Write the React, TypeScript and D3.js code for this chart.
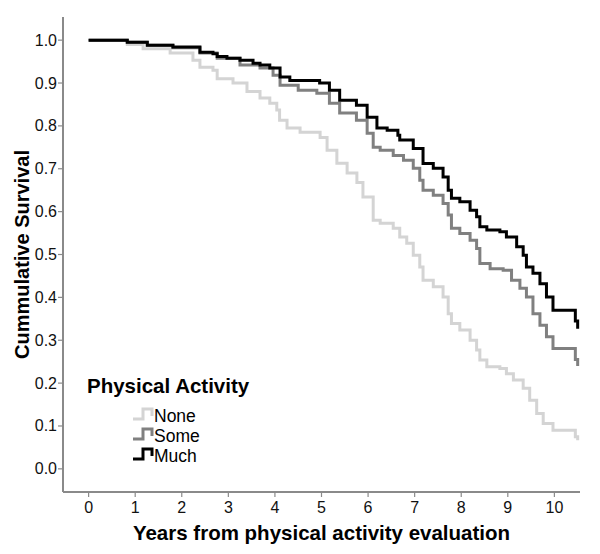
import React from "react";
import * as d3 from "d3";

const seriesNames = ["None", "Some", "Much"];
const seriesColors = ["#d4d4d4", "#808080", "#000000"];

const noneTimes = [0, 0.83, 1.17, 1.75, 2.24, 2.39, 2.67, 2.76, 3.1, 3.4, 3.68, 3.89, 4.04, 4.1, 4.26, 4.54, 4.97, 5.12, 5.33, 5.55, 5.76, 5.89, 6.11, 6.26, 6.54, 6.68, 6.83, 6.97, 7.11, 7.18, 7.4, 7.61, 7.72, 7.79, 7.97, 8.19, 8.33, 8.4, 8.55, 8.83, 8.97, 9.12, 9.33, 9.47, 9.62, 9.76, 9.97, 10.45, 10.5];
const noneSurv = [1.0, 0.99, 0.98, 0.97, 0.953, 0.937, 0.93, 0.91, 0.9, 0.88, 0.865, 0.853, 0.837, 0.813, 0.795, 0.785, 0.773, 0.743, 0.713, 0.69, 0.668, 0.634, 0.58, 0.573, 0.561, 0.541, 0.526, 0.498, 0.471, 0.44, 0.425, 0.401, 0.362, 0.339, 0.324, 0.3, 0.277, 0.254, 0.238, 0.234, 0.222, 0.207, 0.188, 0.16, 0.129, 0.106, 0.09, 0.075, 0.067];

const someTimes = [0, 0.83, 1.26, 1.81, 2.39, 2.76, 3.25, 3.68, 3.96, 4.11, 4.5, 4.9, 5.17, 5.39, 5.75, 5.98, 6.11, 6.26, 6.54, 6.76, 6.97, 7.11, 7.18, 7.4, 7.61, 7.72, 7.79, 7.97, 8.19, 8.33, 8.4, 8.62, 8.9, 9.08, 9.26, 9.4, 9.54, 9.69, 9.83, 9.97, 10.45, 10.5];
const someSurv = [1.0, 0.995, 0.988, 0.982, 0.97, 0.958, 0.942, 0.935, 0.918, 0.895, 0.883, 0.876, 0.853, 0.83, 0.813, 0.783, 0.75, 0.743, 0.731, 0.72, 0.701, 0.673, 0.65, 0.638, 0.619, 0.592, 0.561, 0.549, 0.533, 0.514, 0.479, 0.467, 0.463, 0.44, 0.421, 0.401, 0.362, 0.335, 0.308, 0.281, 0.255, 0.24];

const muchTimes = [0, 0.83, 1.26, 1.81, 2.39, 2.67, 2.76, 2.97, 3.25, 3.53, 3.68, 3.89, 4.11, 4.32, 4.96, 5.17, 5.39, 5.75, 5.98, 6.19, 6.41, 6.64, 6.68, 6.97, 7.18, 7.4, 7.61, 7.72, 7.79, 7.97, 8.19, 8.33, 8.4, 8.55, 8.83, 8.97, 9.19, 9.33, 9.4, 9.54, 9.69, 9.83, 9.97, 10.45, 10.5];
const muchSurv = [1.0, 0.995, 0.988, 0.984, 0.972, 0.968, 0.962, 0.958, 0.953, 0.946, 0.942, 0.935, 0.914, 0.906, 0.9, 0.883, 0.86, 0.848, 0.82, 0.795, 0.79, 0.778, 0.767, 0.747, 0.712, 0.701, 0.681, 0.65, 0.631, 0.623, 0.603, 0.588, 0.565, 0.557, 0.553, 0.541, 0.518, 0.498, 0.471, 0.456, 0.432, 0.401, 0.37, 0.345, 0.327];

const xTicks = [0, 1, 2, 3, 4, 5, 6, 7, 8, 9, 10];
const yTicks = [0, 0.1, 0.2, 0.3, 0.4, 0.5, 0.6, 0.7, 0.8, 0.9, 1.0];

const W = 600;
const H = 554;

export default function App() {
  const x = d3.scaleLinear().domain([-0.55, 10.55]).range([63, 580]);
  const y = d3.scaleLinear().domain([-0.054, 1.054]).range([492, 17]);
  const line = d3
    .line<[number, number]>()
    .x((d) => x(d[0]))
    .y((d) => y(d[1]))
    .curve(d3.curveStepAfter);

  const series = [
    noneTimes.map((t, i) => [t, noneSurv[i]] as [number, number]),
    someTimes.map((t, i) => [t, someSurv[i]] as [number, number]),
    muchTimes.map((t, i) => [t, muchSurv[i]] as [number, number]),
  ];

  const axisColor = "#8a8a8a";
  const font = "Liberation Sans, Arial, sans-serif";

  return (
    <svg
      width={W}
      height={H}
      style={{ position: "absolute", left: 0, top: 0, background: "#fff" }}
      fontFamily={font}
    >
      {/* axes */}
      <line x1={63} x2={63} y1={17} y2={492} stroke={axisColor} strokeWidth={2} />
      <line x1={63} x2={580} y1={492} y2={492} stroke={axisColor} strokeWidth={2} />
      {yTicks.map((t) => (
        <g key={"y" + t}>
          <line x1={58} x2={63} y1={y(t)} y2={y(t)} stroke={axisColor} strokeWidth={1.2} />
          <text x={57} y={y(t) + 5.5} textAnchor="end" fontSize={16} fill="#111">
            {t.toFixed(1)}
          </text>
        </g>
      ))}
      {xTicks.map((t) => (
        <g key={"x" + t}>
          <line x1={x(t)} x2={x(t)} y1={492} y2={497} stroke={axisColor} strokeWidth={1.2} />
          <text x={x(t)} y={513} textAnchor="middle" fontSize={16} fill="#111">
            {t}
          </text>
        </g>
      ))}
      <text x={321.5} y={540} textAnchor="middle" fontSize={20.5} fontWeight="bold" fill="#000">
        Years from physical activity evaluation
      </text>
      <text
        transform={`translate(29,${y(0.5)}) rotate(-90)`}
        textAnchor="middle"
        fontSize={20}
        fontWeight="bold"
        fill="#000"
      >
        Cummulative Survival
      </text>

      {/* curves */}
      {series.map((s, i) => (
        <path
          key={seriesNames[i]}
          d={line(s) || ""}
          fill="none"
          stroke={seriesColors[i]}
          strokeWidth={3}
        />
      ))}

      {/* legend */}
      <text x={87} y={393} fontSize={20.5} fontWeight="bold" fill="#000">
        Physical Activity
      </text>
      {seriesNames.map((n, i) => {
        const by = 422 + i * 20;
        return (
          <g key={"lg" + n}>
            <path
              d={`M133,${by - 3} H143 V${by - 13} H152 V${by - 6}`}
              fill="none"
              stroke={seriesColors[i]}
              strokeWidth={3}
            />
            <text x={154} y={by} fontSize={17.5} fill="#000">
              {n}
            </text>
          </g>
        );
      })}
    </svg>
  );
}
